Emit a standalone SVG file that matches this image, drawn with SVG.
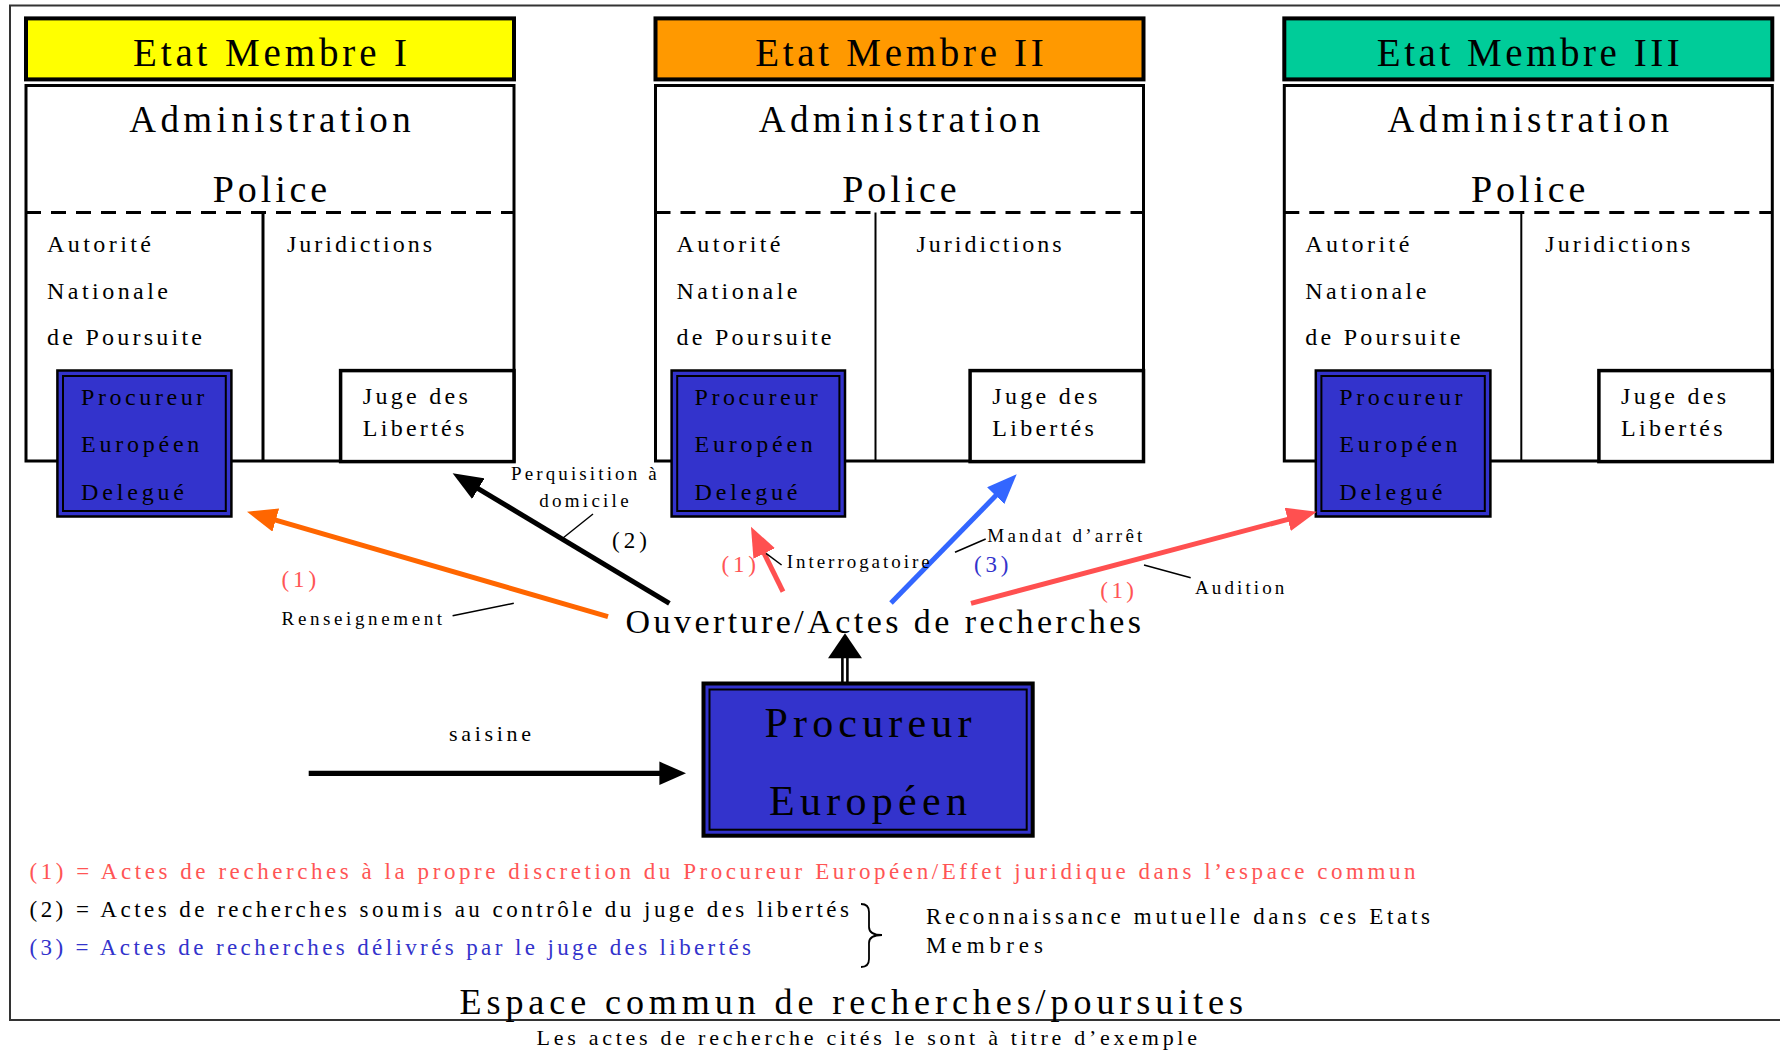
<svg xmlns="http://www.w3.org/2000/svg" width="1780" height="1053" viewBox="0 0 1780 1053">
<style>
text { font-family: "Liberation Serif", "Times New Roman", serif; fill: #000; }
.hdr { stroke: #000; stroke-width: 4; }
.body { fill: #fff; stroke: #000; stroke-width: 3; }
.dash { stroke: #000; stroke-width: 3; stroke-dasharray: 15 10; }
.div { stroke: #000; stroke-width: 2; }
.juge { fill: #fff; stroke: #000; stroke-width: 3.5; }
.pe-o { fill: #3333CC; stroke: #000; stroke-width: 2.5; }
.pe-i { fill: none; stroke: #000; stroke-width: 2; }
.t-title { font-size: 39px; text-anchor: middle; }
.t-big { font-size: 37px; text-anchor: middle; }
.t-mid { font-size: 24px; }
.t-lab { font-size: 19px; }
.t-num { font-size: 23px; }
.t-leg { font-size: 23px; }
.red { fill: #FF5555; }
.blue { fill: #3333CC; }
.leader { stroke: #000; stroke-width: 1.5; }
.arr { stroke-width: 5; fill: none; }
</style>
<defs>
<marker id="ah-black" markerUnits="userSpaceOnUse" markerWidth="30" markerHeight="24" viewBox="0 0 30 24" refX="10" refY="12" orient="auto"><path d="M0,0 L30,12 L0,24 z" fill="#000"/></marker>
<marker id="ah-orange" markerUnits="userSpaceOnUse" markerWidth="30" markerHeight="24" viewBox="0 0 30 24" refX="10" refY="12" orient="auto"><path d="M0,0 L30,12 L0,24 z" fill="#FF6600"/></marker>
<marker id="ah-red" markerUnits="userSpaceOnUse" markerWidth="30" markerHeight="24" viewBox="0 0 30 24" refX="10" refY="12" orient="auto"><path d="M0,0 L30,12 L0,24 z" fill="#FF5050"/></marker>
<marker id="ah-blue" markerUnits="userSpaceOnUse" markerWidth="30" markerHeight="24" viewBox="0 0 30 24" refX="10" refY="12" orient="auto"><path d="M0,0 L30,12 L0,24 z" fill="#3366FF"/></marker>
</defs>

<rect x="10" y="5.5" width="1800" height="1014.5" fill="#fff" stroke="#333" stroke-width="2"/>

<g id="etat-membre-1" transform="translate(26,0)">
  <rect class="hdr" x="0" y="18.4" width="488" height="61" fill="#FFFF00"/>
  <text class="t-title" x="244" y="66" textLength="274">Etat Membre I</text>
  <rect class="body" x="0" y="85.5" width="488" height="375.5"/>
  <text class="t-big" x="244" y="131.5" textLength="281.5">Administration</text>
  <text class="t-big" x="244" y="202.4" textLength="114.4" style="font-size:38px">Police</text>
  <line class="dash" x1="0" y1="212.5" x2="488" y2="212.5"/>
  <line class="div" x1="237" y1="212.5" x2="237" y2="461" style="stroke-width:3"/>
  <text class="t-mid" x="21" y="252" textLength="104">Autorité</text>
  <text class="t-mid" x="21" y="299" textLength="121">Nationale</text>
  <text class="t-mid" x="21" y="345" textLength="155">de Poursuite</text>
  <text class="t-mid" x="261" y="252" textLength="145">Juridictions</text>
  <g id="juge-1">
    <rect class="juge" x="314.6" y="370.6" width="173.4" height="91"/>
    <text class="t-mid" x="336.8" y="404.4" textLength="105">Juge des</text>
    <text class="t-mid" x="336.8" y="435.5" textLength="101.5">Libertés</text>
  </g>
  <g id="ped-1">
    <rect class="pe-o" x="31.4" y="370.5" width="174" height="146"/>
    <rect class="pe-i" x="37" y="376" width="162.8" height="135"/>
    <text class="t-mid" x="55" y="405" textLength="123.3">Procureur</text>
    <text class="t-mid" x="55" y="451.7" textLength="118.3">Européen</text>
    <text class="t-mid" x="55" y="500" textLength="103">Delegué</text>
  </g>
</g>

<g id="etat-membre-2" transform="translate(655.5,0)">
  <rect class="hdr" x="0" y="18.4" width="488" height="61" fill="#FF9900"/>
  <text class="t-title" x="244" y="66" textLength="288.6">Etat Membre II</text>
  <rect class="body" x="0" y="85.5" width="488" height="375.5"/>
  <text class="t-big" x="244" y="131.5" textLength="281.5">Administration</text>
  <text class="t-big" x="244" y="202.4" textLength="114.4" style="font-size:38px">Police</text>
  <line class="dash" x1="0" y1="212.5" x2="488" y2="212.5"/>
  <line class="div" x1="220" y1="212.5" x2="220" y2="461"/>
  <text class="t-mid" x="21" y="252" textLength="104">Autorité</text>
  <text class="t-mid" x="21" y="299" textLength="121">Nationale</text>
  <text class="t-mid" x="21" y="345" textLength="155">de Poursuite</text>
  <text class="t-mid" x="261" y="252" textLength="145">Juridictions</text>
  <g id="juge-2">
    <rect class="juge" x="314.6" y="370.6" width="173.4" height="91"/>
    <text class="t-mid" x="336.8" y="404.4" textLength="105">Juge des</text>
    <text class="t-mid" x="336.8" y="435.5" textLength="101.5">Libertés</text>
  </g>
  <g id="ped-2">
    <rect class="pe-o" x="16.1" y="370.5" width="173.4" height="146"/>
    <rect class="pe-i" x="21.7" y="376" width="162.2" height="135"/>
    <text class="t-mid" x="39" y="405" textLength="123.3">Procureur</text>
    <text class="t-mid" x="39" y="451.7" textLength="118.3">Européen</text>
    <text class="t-mid" x="39" y="500" textLength="103">Delegué</text>
  </g>
</g>

<g id="etat-membre-3" transform="translate(1284.3,0)">
  <rect class="hdr" x="0" y="18.4" width="488" height="61" fill="#00CC99"/>
  <text class="t-title" x="244" y="66" textLength="303">Etat Membre III</text>
  <rect class="body" x="0" y="85.5" width="488" height="375.5"/>
  <text class="t-big" x="244" y="131.5" textLength="281.5">Administration</text>
  <text class="t-big" x="244" y="202.4" textLength="114.4" style="font-size:38px">Police</text>
  <line class="dash" x1="0" y1="212.5" x2="488" y2="212.5"/>
  <line class="div" x1="237" y1="212.5" x2="237" y2="461"/>
  <text class="t-mid" x="21" y="252" textLength="104">Autorité</text>
  <text class="t-mid" x="21" y="299" textLength="121">Nationale</text>
  <text class="t-mid" x="21" y="345" textLength="155">de Poursuite</text>
  <text class="t-mid" x="261" y="252" textLength="145">Juridictions</text>
  <g id="juge-3">
    <rect class="juge" x="314.6" y="370.6" width="173.4" height="91"/>
    <text class="t-mid" x="336.8" y="404.4" textLength="105">Juge des</text>
    <text class="t-mid" x="336.8" y="435.5" textLength="101.5">Libertés</text>
  </g>
  <g id="ped-3">
    <rect class="pe-o" x="31.5" y="370.5" width="174.6" height="146"/>
    <rect class="pe-i" x="37.1" y="376" width="163.4" height="135"/>
    <text class="t-mid" x="55" y="405" textLength="123.3">Procureur</text>
    <text class="t-mid" x="55" y="451.7" textLength="118.3">Européen</text>
    <text class="t-mid" x="55" y="500" textLength="103">Delegué</text>
  </g>
</g>

<g id="procureur-europeen">
  <rect x="703.5" y="683.5" width="329.2" height="152.2" fill="#3333CC" stroke="#000" stroke-width="4"/>
  <rect x="709.5" y="689.5" width="317.2" height="140.2" fill="none" stroke="#000" stroke-width="2"/>
  <text x="868" y="736.7" textLength="207" style="font-size:42px;text-anchor:middle">Procureur</text>
  <text x="868" y="815" textLength="198" style="font-size:42px;text-anchor:middle">Européen</text>
</g>

<g id="connectors">
  <line class="arr" x1="669.4" y1="603.3" x2="469.75" y2="483.6" stroke="#000" marker-end="url(#ah-black)"/>
  <line class="arr" x1="608" y1="616.7" x2="266.2" y2="517.3" stroke="#FF6600" marker-end="url(#ah-orange)"/>
  <line class="arr" x1="783" y1="591.7" x2="759.8" y2="544.6" stroke="#FF5050" marker-end="url(#ah-red)"/>
  <line class="arr" x1="891" y1="603" x2="1002.7" y2="488.6" stroke="#3366FF" marker-end="url(#ah-blue)"/>
  <line class="arr" x1="971" y1="603.3" x2="1297.4" y2="516.8" stroke="#FF5050" marker-end="url(#ah-red)"/>
  <line x1="842.4" y1="657" x2="842.4" y2="682" stroke="#000" stroke-width="2.6"/>
  <line x1="847.4" y1="657" x2="847.4" y2="682" stroke="#000" stroke-width="2.6"/>
  <polygon points="845,633.3 862,658.3 828,658.3" fill="#000"/>
  <line x1="308.7" y1="773.3" x2="662" y2="773.3" stroke="#000" stroke-width="5.3"/>
  <polygon points="686,773.3 659.4,761.6 659.4,785" fill="#000"/>
  <line class="leader" x1="593" y1="514" x2="563" y2="538"/>
  <line class="leader" x1="452.6" y1="615.7" x2="513.8" y2="603.3"/>
  <line class="leader" x1="766" y1="553.3" x2="781.6" y2="565"/>
  <line class="leader" x1="985.7" y1="539" x2="955" y2="552.3"/>
  <line class="leader" x1="1144" y1="565" x2="1190.7" y2="577.7"/>
</g>

<g id="labels">
  <text class="t-lab" x="511" y="480" textLength="145.6">Perquisition à</text>
  <text class="t-lab" x="539.3" y="507" textLength="89.3">domicile</text>
  <text class="t-num" x="612" y="548" textLength="35">(2)</text>
  <text class="t-num red" x="281.6" y="587" textLength="34.5">(1)</text>
  <text class="t-lab" x="281.6" y="624.5" textLength="160.5">Renseignement</text>
  <text x="625.5" y="632.5" textLength="515.5" style="font-size:34px">Ouverture/Actes de recherches</text>
  <text class="t-num red" x="721.4" y="571.5" textLength="34.6">(1)</text>
  <text class="t-lab" x="786.7" y="567.7" textLength="143">Interrogatoire</text>
  <text class="t-lab" x="987.3" y="541.7" textLength="155">Mandat d’arrêt</text>
  <text class="t-num blue" x="974" y="572.3" textLength="34.3">(3)</text>
  <text class="t-num red" x="1100.3" y="598.3" textLength="33.7">(1)</text>
  <text class="t-lab" x="1195" y="594" textLength="89.3">Audition</text>
  <text x="449" y="741" textLength="82" style="font-size:22px">saisine</text>
</g>

<g id="legend">
  <text class="t-leg red" x="29.5" y="879" textLength="1386">(1) = Actes de recherches à la propre discretion du Procureur Européen/Effet juridique dans l’espace commun</text>
  <text class="t-leg" x="29.5" y="916.7" textLength="819.5">(2) = Actes de recherches soumis au contrôle du juge des libertés</text>
  <text class="t-leg blue" x="29.5" y="955" textLength="721.5">(3) = Actes de recherches délivrés par le juge des libertés</text>
  <path d="M861,904 Q869,904 869,912 L869,927 Q869,935 882,935 Q869,935 869,943 L869,959 Q869,967 861,967" fill="none" stroke="#000" stroke-width="1.8"/>
  <text class="t-leg" x="926" y="923.5" textLength="504">Reconnaissance mutuelle dans ces Etats</text>
  <text class="t-leg" x="926" y="953.3" textLength="117">Membres</text>
  <text x="459.5" y="1014" textLength="783.5" style="font-size:36px">Espace commun de recherches/poursuites</text>
  <text x="536.5" y="1045" textLength="660.5" style="font-size:22px">Les actes de recherche cités le sont à titre d’exemple</text>
</g>
</svg>
